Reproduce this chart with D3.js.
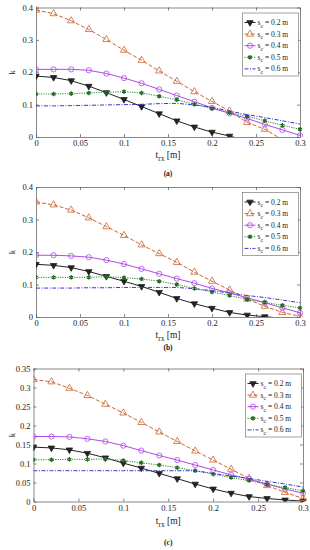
<!DOCTYPE html>
<meta charset="utf-8">
<head>
  <style>
    body { margin: 0; background: #fff; }
    svg text { font-family: "Liberation Serif", "Times New Roman", serif; fill: #222; }
    .tick text { font-size: 8.5px; }
    .axis path, .axis line { stroke: #555; stroke-width: 0.7; }
  </style>
</head>
<body>
<svg id="chart" width="310" height="550"></svg>
<script src="https://d3js.org/d3.v7.min.js"></script>
<script>

var trx = [0, 0.02, 0.04, 0.06, 0.08, 0.1, 0.12, 0.14, 0.16, 0.18, 0.2, 0.22, 0.24, 0.26, 0.28, 0.3];
var seriesNames = ["0.2", "0.3", "0.4", "0.5", "0.6"];

// panel (a)
var a_s02 = [0.188, 0.184, 0.174, 0.157, 0.137, 0.116, 0.094, 0.072, 0.050, 0.031, 0.015, 0.003, -0.012, -0.03, -0.05, -0.07];
var a_s03 = [0.392, 0.381, 0.359, 0.332, 0.301, 0.268, 0.237, 0.204, 0.172, 0.140, 0.110, 0.080, 0.045, 0.024, -0.008, -0.03];
var a_s04 = [0.209, 0.209, 0.209, 0.206, 0.196, 0.182, 0.166, 0.147, 0.128, 0.109, 0.090, 0.073, 0.057, 0.039, 0.022, 0.005];
var a_s05 = [0.133, 0.133, 0.134, 0.136, 0.138, 0.140, 0.136, 0.126, 0.115, 0.101, 0.088, 0.075, 0.064, 0.050, 0.036, 0.024];
var a_s06 = [0.096, 0.096, 0.097, 0.098, 0.099, 0.100, 0.101, 0.103, 0.104, 0.099, 0.092, 0.080, 0.069, 0.060, 0.050, 0.040];

// panel (b)
var b_s02 = [0.162, 0.159, 0.152, 0.140, 0.125, 0.110, 0.094, 0.076, 0.057, 0.041, 0.027, 0.014, 0.006, 0.001, -0.004, -0.008];
var b_s03 = [0.354, 0.345, 0.329, 0.305, 0.278, 0.251, 0.222, 0.195, 0.168, 0.138, 0.110, 0.083, 0.055, 0.033, 0.014, 0.002];
var b_s04 = [0.190, 0.190, 0.188, 0.184, 0.175, 0.163, 0.148, 0.133, 0.118, 0.104, 0.088, 0.074, 0.059, 0.044, 0.028, 0.013];
var b_s05 = [0.122, 0.122, 0.122, 0.122, 0.124, 0.121, 0.117, 0.110, 0.100, 0.088, 0.077, 0.066, 0.054, 0.045, 0.036, 0.028];
var b_s06 = [0.089, 0.089, 0.089, 0.090, 0.090, 0.091, 0.091, 0.091, 0.091, 0.087, 0.081, 0.074, 0.066, 0.060, 0.052, 0.044];

// panel (c)
var c_s02 = [0.143, 0.141, 0.136, 0.127, 0.115, 0.101, 0.088, 0.074, 0.060, 0.046, 0.033, 0.022, 0.013, 0.008, 0.004, 0.001];
var c_s03 = [0.321, 0.315, 0.298, 0.279, 0.256, 0.233, 0.208, 0.183, 0.158, 0.133, 0.109, 0.085, 0.061, 0.042, 0.024, 0.008];
var c_s04 = [0.171, 0.171, 0.170, 0.165, 0.158, 0.147, 0.134, 0.121, 0.109, 0.096, 0.083, 0.070, 0.059, 0.046, 0.033, 0.022];
var c_s05 = [0.110, 0.110, 0.111, 0.111, 0.112, 0.108, 0.102, 0.096, 0.089, 0.081, 0.072, 0.063, 0.055, 0.045, 0.037, 0.028];
var c_s06 = [0.081, 0.081, 0.081, 0.081, 0.081, 0.081, 0.081, 0.081, 0.081, 0.081, 0.074, 0.067, 0.061, 0.053, 0.046, 0.038];

var xTicks = [0, 0.05, 0.1, 0.15, 0.2, 0.25, 0.3];
var yTicksAB = [0, 0.1, 0.2, 0.3, 0.4];
var yTicksC = [0, 0.05, 0.1, 0.15, 0.2, 0.25, 0.3, 0.35];

var styles = [
  { color: "#222222", dash: null, marker: "down" },
  { color: "#cc6633", dash: "4,2", marker: "up" },
  { color: "#b048e8", dash: null, marker: "circle" },
  { color: "#2a8a2a", dash: "1.2,1.2", marker: "star" },
  { color: "#3838c8", dash: "4,1.5,1,1.5", marker: null }
];

var panels = [
  { id: "a", series: [a_s02, a_s03, a_s04, a_s05, a_s06], yMax: 0.4, yTicks: yTicksAB,
    left: 36, right: 300, top: 7.5, bottom: 137, xlabY: 158, capY: 175.5 },
  { id: "b", series: [b_s02, b_s03, b_s04, b_s05, b_s06], yMax: 0.4, yTicks: yTicksAB,
    left: 36, right: 300, top: 187, bottom: 317, xlabY: 338, capY: 349.5 },
  { id: "c", series: [c_s02, c_s03, c_s04, c_s05, c_s06], yMax: 0.35, yTicks: yTicksC,
    left: 33.5, right: 303, top: 368.5, bottom: 501.5, xlabY: 524, capY: 544.5 }
];

var svg = d3.select("#chart");
svg.append("rect").attr("width", 310).attr("height", 550).attr("fill", "#fff");

function drawMarker(g, type, color, x, y) {
  if (type == "down" || type == "up") {
    g.append("path")
      .attr("d", d3.symbol().type(d3.symbolTriangle).size(type == "down" ? 18 : 22)())
      .attr("transform", "translate(" + x + "," + y + ")" + (type == "down" ? " rotate(180)" : ""))
      .attr("fill", type == "down" ? color : "none")
      .attr("stroke", color).attr("stroke-width", 0.8);
  } else if (type == "circle") {
    g.append("circle").attr("cx", x).attr("cy", y).attr("r", 2.6)
      .attr("fill", "none").attr("stroke", color).attr("stroke-width", 0.8);
  } else if (type == "star") {
    g.append("path")
      .attr("d", d3.symbol().type(d3.symbolAsterisk).size(14)())
      .attr("transform", "translate(" + x + "," + y + ")")
      .attr("fill", "none").attr("stroke", "#1e6e1e").attr("stroke-width", 1.3);
  }
}

panels.forEach(function(p, pi) {
  var x = d3.scaleLinear().domain([0, 0.3]).range([p.left, p.right]);
  var y = d3.scaleLinear().domain([0, p.yMax]).range([p.bottom, p.top]);
  var g = svg.append("g");

  // clip for data
  var clipId = "clip" + p.id;
  svg.append("clipPath").attr("id", clipId)
    .append("rect").attr("x", p.left).attr("y", p.top - 4)
    .attr("width", p.right - p.left + 4).attr("height", p.bottom - p.top + 4);

  var fmt = d3.format("~g");
  g.append("g").attr("class", "axis").attr("transform", "translate(0," + p.bottom + ")")
    .call(d3.axisBottom(x).tickValues(xTicks).tickFormat(fmt).tickSize(-3).tickSizeOuter(0).tickPadding(3));
  g.append("g").attr("class", "axis").attr("transform", "translate(0," + p.top + ")")
    .call(d3.axisTop(x).tickValues(xTicks).tickFormat("").tickSize(-3).tickSizeOuter(0));
  g.append("g").attr("class", "axis").attr("transform", "translate(" + p.left + ",0)")
    .call(d3.axisLeft(y).tickValues(p.yTicks).tickFormat(fmt).tickSize(-3).tickSizeOuter(0).tickPadding(3));
  g.append("g").attr("class", "axis").attr("transform", "translate(" + p.right + ",0)")
    .call(d3.axisRight(y).tickValues(p.yTicks).tickFormat("").tickSize(-3).tickSizeOuter(0));

  var data = g.append("g").attr("clip-path", "url(#" + clipId + ")");
  var line = d3.line().x(function(d, i) { return x(trx[i]); }).y(function(d) { return y(d); });

  p.series.forEach(function(vals, si) {
    var st = styles[si];
    data.append("path").datum(vals)
      .attr("d", line)
      .attr("fill", "none")
      .attr("stroke", st.color)
      .attr("stroke-width", 1)
      .attr("stroke-dasharray", st.dash);
    if (st.marker) {
      vals.forEach(function(v, i) {
        if (v >= 0) drawMarker(data, st.marker, st.color, x(trx[i]), y(v));
      });
    }
  });

  // legend
  var lx = p.right - 57.5, ly = p.top + 5.5, rowH = 11.6;
  var lg = g.append("g");
  lg.append("rect").attr("x", lx).attr("y", ly).attr("width", 56).attr("height", 63)
    .attr("fill", "#fff").attr("stroke", "#666").attr("stroke-width", 0.6);
  seriesNames.forEach(function(name, si) {
    var st = styles[si];
    var ry = ly + 9.5 + si * rowH;
    lg.append("line").attr("x1", lx + 2).attr("x2", lx + 13).attr("y1", ry).attr("y2", ry)
      .attr("stroke", st.color).attr("stroke-width", 1).attr("stroke-dasharray", st.dash);
    if (st.marker) drawMarker(lg, st.marker, st.color, lx + 7.5, ry);
    var t = lg.append("text").attr("x", lx + 15).attr("y", ry + 2.5).style("font-size", "7.5px");
    t.append("tspan").text("s");
    t.append("tspan").attr("dy", 2.5).style("font-size", "6px").text("c");
    t.append("tspan").attr("dy", -2.5).text(" = " + name + " m");
  });

  // axis labels
  var xl = g.append("text").attr("x", (p.left + p.right) / 2).attr("y", p.xlabY)
    .attr("text-anchor", "middle").style("font-size", "9.5px");
  xl.append("tspan").text("t");
  xl.append("tspan").attr("dy", 3).style("font-size", "7.5px").text("rx");
  xl.append("tspan").attr("dy", -3).text(" [m]");

  g.append("text").attr("transform", "translate(15," + ((p.top + p.bottom) / 2) + ") rotate(-90)")
    .attr("text-anchor", "middle").style("font-size", "8.5px").text("k");

  g.append("text").attr("x", (p.left + p.right) / 2).attr("y", p.capY)
    .attr("text-anchor", "middle").style("font-size", "7.5px").style("font-weight", "bold")
    .text("(" + p.id + ")");
});

</script>
</body>
